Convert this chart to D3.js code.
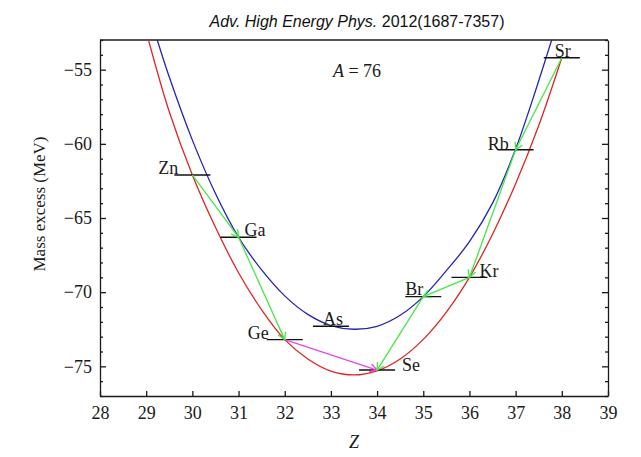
<!DOCTYPE html>
<html>
<head>
<meta charset="utf-8">
<script src="https://cdn.jsdelivr.net/npm/d3@7"></script>
<style>
  body { margin: 0; background: #fff; }
  svg { display: block; }
  .serif { font-family: "Liberation Serif", "DejaVu Serif", serif; }
  .axis path, .axis line { stroke: #1a1a1a; stroke-width: 1.3; }
  .axis text { font-family: "Liberation Serif", "DejaVu Serif", serif; font-size: 18px; fill: #1a1a1a; }
</style>
</head>
<body>
<svg id="chart" width="641" height="457"></svg>
<script>
// Isobars with A = 76: proton number and mass excess (MeV)
const nuclideZ = [30, 31, 32, 33, 34, 35, 36, 37, 38];
const nuclideNames = ["Zn", "Ga", "Ge", "As", "Se", "Br", "Kr", "Rb", "Sr"];
const massExcess = [-62.1, -66.3, -73.2, -72.3, -75.25, -70.3, -69.0, -60.4, -54.2];

// Even-even mass parabola (red)
const evenZ = [29.05, 29.5, 30, 30.5, 31, 31.5, 32, 32.5, 33, 33.5, 34, 34.5, 35, 35.5, 36, 36.5, 37, 37.5, 38];
const evenM = [-53.0, -57.84, -62.1, -65.63, -68.69, -71.19, -73.2, -74.5, -75.32, -75.58, -75.3, -74.5, -73.18, -71.34, -69.0, -66.09, -62.69, -58.77, -54.2];

// Odd-odd mass parabola (blue)
const oddZ = [29.24, 29.5, 30, 30.5, 31, 31.5, 32, 32.5, 33, 33.5, 34, 34.5, 35, 35.5, 36, 36.5, 37, 37.38, 37.78];
const oddM = [-53.0, -55.5, -59.75, -63.35, -66.3, -68.5, -70.25, -71.5, -72.25, -72.5, -72.3, -71.56, -70.3, -68.55, -66.6, -64.0, -60.35, -56.9, -53.0];

// Single beta transitions (green) and double beta decay (magenta)
const betaFrom = ["Zn", "Ga", "Sr", "Rb", "Kr", "Br"];
const betaTo   = ["Ga", "Ge", "Rb", "Kr", "Br", "Se"];
const doubleBetaFrom = ["Ge"];
const doubleBetaTo   = ["Se"];

// Axis ticks
const xTicks = [28, 29, 30, 31, 32, 33, 34, 35, 36, 37, 38, 39];
const yTicks = [-75, -70, -65, -60, -55];
const yMinorTicks = [-77, -76, -74, -73, -72, -71, -69, -68, -67, -66, -64, -63, -62, -61, -59, -58, -57, -56, -54, -53];

// ---- layout ----
const plot = { left: 100, right: 608, top: 40, bottom: 396 };
const svg = d3.select("#chart");

const x = d3.scaleLinear().domain([28, 39]).range([plot.left, plot.right]);
const y = d3.scaleLinear().domain([-77, -53]).range([plot.bottom, plot.top]);

const colors = { odd: "#2323b4", even: "#e02424", beta: "#46e646", doubleBeta: "#e646e6", level: "#111" };

// label placement around each level mark (px)
const labelOffset = {
  Zn: [-34, -1], Ga: [6, -1], Ge: [-37, -1], As: [-8, -1.5], Se: [25, 1],
  Br: [-18, -1.5], Kr: [10, 0], Rb: [-28, 0], Sr: [-7, -0.5]
};

const defs = svg.append("defs");
defs.append("clipPath").attr("id", "plot-clip")
  .append("rect")
  .attr("x", plot.left).attr("y", plot.top)
  .attr("width", plot.right - plot.left).attr("height", plot.bottom - plot.top);

// arrowheads (open V)
[["beta", colors.beta], ["doubleBeta", colors.doubleBeta]].forEach(([id, c]) => {
  defs.append("marker")
    .attr("id", "head-" + id)
    .attr("viewBox", "-10 -6 12 12")
    .attr("refX", 0).attr("refY", 0)
    .attr("markerWidth", 12).attr("markerHeight", 12)
    .attr("markerUnits", "userSpaceOnUse")
    .attr("orient", "auto")
    .append("path")
    .attr("d", "M-7,-4L0,0L-7,4")
    .attr("fill", "none")
    .attr("stroke", c)
    .attr("stroke-width", 1.3);
});

// ---- axes ----
svg.append("g").attr("class", "axis")
  .attr("transform", `translate(0,${plot.bottom})`)
  .call(d3.axisBottom(x).tickValues(xTicks).tickSize(-5).tickSizeOuter(0).tickPadding(10).tickFormat(d3.format("d")));

svg.append("g").attr("class", "axis")
  .attr("transform", `translate(${plot.left},0)`)
  .call(d3.axisLeft(y).tickValues(yTicks).tickSize(-6).tickSizeOuter(0).tickPadding(8)
    .tickFormat(d => "\u2212" + Math.abs(d)));

svg.append("g").attr("class", "axis")
  .attr("transform", `translate(${plot.left},0)`)
  .call(d3.axisLeft(y).tickValues(yMinorTicks).tickSize(-3).tickSizeOuter(0).tickFormat(""))
  .select(".domain").remove();

svg.append("g").attr("class", "axis")
  .attr("transform", `translate(${plot.right},0)`)
  .call(d3.axisRight(y).tickValues(yTicks).tickSize(-6).tickSizeOuter(0).tickFormat(""));

svg.append("g").attr("class", "axis")
  .attr("transform", `translate(${plot.right},0)`)
  .call(d3.axisRight(y).tickValues(yMinorTicks).tickSize(-3).tickSizeOuter(0).tickFormat(""))
  .select(".domain").remove();

svg.append("line")
  .attr("x1", plot.left).attr("x2", plot.right)
  .attr("y1", plot.top).attr("y2", plot.top)
  .attr("stroke", "#1a1a1a").attr("stroke-width", 1.3);

// ---- parabolas ----
const curveLine = d3.line()
  .x(d => x(d[0])).y(d => y(d[1]))
  .curve(d3.curveCatmullRom.alpha(0.5));

const curves = svg.append("g").attr("clip-path", "url(#plot-clip)");
curves.append("path")
  .attr("d", curveLine(d3.zip(evenZ, evenM)))
  .attr("fill", "none").attr("stroke", colors.even).attr("stroke-width", 1.3);
curves.append("path")
  .attr("d", curveLine(d3.zip(oddZ, oddM)))
  .attr("fill", "none").attr("stroke", colors.odd).attr("stroke-width", 1.3);

// ---- levels ----
const nuclides = nuclideNames.map((n, i) => ({ name: n, z: nuclideZ[i], m: massExcess[i] }));
const byName = Object.fromEntries(nuclides.map(d => [d.name, d]));

svg.append("g").selectAll("line").data(nuclides).join("line")
  .attr("x1", d => x(d.z - 0.39)).attr("x2", d => x(d.z + 0.39))
  .attr("y1", d => y(d.m)).attr("y2", d => y(d.m))
  .attr("stroke", colors.level).attr("stroke-width", 1.4);

// ---- decay arrows ----
function drawArrows(from, to, color, id) {
  svg.append("g").selectAll("line").data(d3.zip(from, to)).join("line")
    .attr("x1", d => x(byName[d[0]].z)).attr("y1", d => y(byName[d[0]].m))
    .attr("x2", d => x(byName[d[1]].z)).attr("y2", d => y(byName[d[1]].m))
    .attr("stroke", color).attr("stroke-width", 1.3)
    .attr("marker-end", `url(#head-${id})`);
}
drawArrows(doubleBetaFrom, doubleBetaTo, colors.doubleBeta, "doubleBeta");
drawArrows(betaFrom, betaTo, colors.beta, "beta");

// ---- element labels ----
svg.append("g").attr("class", "serif").selectAll("text").data(nuclides).join("text")
  .attr("x", d => x(d.z) + labelOffset[d.name][0])
  .attr("y", d => y(d.m) + labelOffset[d.name][1])
  .attr("font-size", 18).attr("fill", "#1a1a1a")
  .text(d => d.name);

// ---- annotation and titles ----
const ann = svg.append("text").attr("class", "serif")
  .attr("x", 357).attr("y", 77).attr("text-anchor", "middle")
  .attr("font-size", 18).attr("fill", "#1a1a1a");
ann.append("tspan").attr("font-style", "italic").text("A");
ann.append("tspan").text(" = 76");

svg.append("text").attr("class", "serif")
  .attr("x", (plot.left + plot.right) / 2).attr("y", 448)
  .attr("text-anchor", "middle").attr("font-size", 18).attr("font-style", "italic")
  .attr("fill", "#1a1a1a").text("Z");

svg.append("text").attr("class", "serif")
  .attr("transform", "translate(45,204) rotate(-90)")
  .attr("text-anchor", "middle").attr("font-size", 17)
  .attr("fill", "#1a1a1a").text("Mass excess (MeV)");

const title = svg.append("text")
  .attr("x", 357).attr("y", 27).attr("text-anchor", "middle")
  .attr("font-family", "'Liberation Sans', Arial, sans-serif").attr("font-size", 16)
  .attr("fill", "#111");
title.append("tspan").attr("font-style", "italic").text("Adv. High Energy Phys.");
title.append("tspan").text(" 2012(1687-7357)");
</script>
</body>
</html>
